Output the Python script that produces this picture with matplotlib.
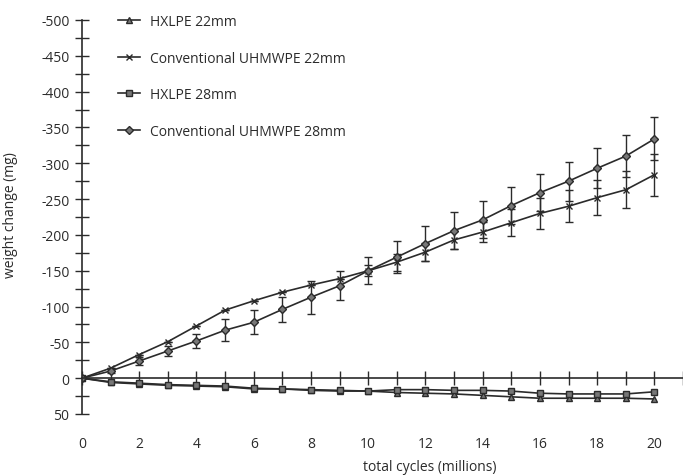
import matplotlib.pyplot as plt
from matplotlib.ticker import MultipleLocator, FuncFormatter

plt.rcParams['font.family'] = ['Open Sans', 'DejaVu Sans']
plt.rcParams['axes.unicode_minus'] = False

# datos (millones de ciclos / mg)
ciclos = list(range(0, 21))
hxlpe22 = [0, 6, 8, 10, 11, 12, 15, 15, 17, 18, 18, 20, 21, 22, 24, 26, 28, 28, 28, 28, 29]
conv22 = [0, -14, -33, -51, -73, -95, -108, -120, -130, -139, -150, -162, -176, -193, -204,
          -217, -230, -240, -252, -263, -284]
conv22_err = [0, 0, 0, 0, 0, 0, 0, 0, 0, 0, 8, 12, 13, 12, 14, 19, 22, 22, 24, 26, 29]
hxlpe28 = [0, 5, 7, 9, 10, 11, 14, 15, 16, 17, 18, 16, 16, 17, 17, 18, 21, 22, 22, 22, 19]
conv28 = [0, -10, -24, -38, -52, -67, -78, -96, -113, -129, -150, -169, -188, -206, -221,
          -241, -259, -275, -293, -310, -334]
conv28_err = [0, 3, 5, 7, 10, 15, 17, 18, 23, 20, 19, 22, 24, 26, 26, 26, 26, 27, 28, 29, 30]

etiquetas = ['HXLPE 22mm', 'Conventional UHMWPE 22mm', 'HXLPE 28mm', 'Conventional UHMWPE 28mm']

color = '#2b2b2b'
fig = plt.figure(figsize=(6.83, 4.77), dpi=100)
ax = fig.add_axes([82 / 683, 1 - 415 / 477, 1 - 82 / 683, (415 - 21) / 477])

estilo = dict(color=color, linewidth=1.2, markersize=5, markeredgewidth=1,
              markerfacecolor='#777777', markeredgecolor=color)
l1, = ax.plot(ciclos, hxlpe22, marker='^', **estilo)
e2 = ax.errorbar(ciclos, conv22, yerr=conv22_err, marker='x',
                 capsize=3, elinewidth=1, ecolor=color, **estilo)
l3, = ax.plot(ciclos, hxlpe28, marker='s', **estilo)
e4 = ax.errorbar(ciclos, conv28, yerr=conv28_err, marker='D',
                 capsize=3, elinewidth=1, ecolor=color, **{**estilo, 'markersize': 4.5})

ax.set_xlim(0, 21)
ax.set_ylim(50, -500)

# ejes
for lado in ('top', 'right'):
    ax.spines[lado].set_visible(False)
ax.spines['left'].set_position(('data', 0))
ax.spines['bottom'].set_position(('data', 0))
for lado in ('left', 'bottom'):
    ax.spines[lado].set_color(color)
    ax.spines[lado].set_linewidth(1.2)

ax.xaxis.set_major_locator(MultipleLocator(1))
ax.tick_params(axis='x', direction='inout', length=10, width=1, color=color, labelbottom=False)
ax.yaxis.set_major_locator(MultipleLocator(50))
ax.yaxis.set_minor_locator(MultipleLocator(25))
ax.yaxis.set_major_formatter(FuncFormatter(lambda v, p: f'{int(v)}'))
ax.tick_params(axis='y', which='both', direction='inout', length=10, width=1, color=color,
               labelsize=10, labelcolor=color, pad=4)

# etiquetas del eje x abajo
sec = ax.secondary_xaxis('bottom')
sec.spines['bottom'].set_visible(False)
sec.set_xticks(range(0, 21, 2))
sec.tick_params(length=0, pad=16, labelsize=10, labelcolor=color)

ax.set_xlabel('total cycles (millions)', fontsize=10, color=color)
ax.xaxis.set_label_coords(0.579, -0.115)
ax.set_ylabel('weight change (mg)', fontsize=10, color=color)
ax.yaxis.set_label_coords(-0.106, 0.508)

ax.legend([l1, e2[0], l3, e4[0]], etiquetas, loc='upper left',
          bbox_to_anchor=(118 / 683, 1 - 15 / 477),
          bbox_transform=fig.transFigure, frameon=False, fontsize=10,
          handlelength=1.6, handletextpad=0.7, labelspacing=1.55,
          borderpad=0, borderaxespad=0, labelcolor=color)

fig.savefig('out.png', dpi=100)
